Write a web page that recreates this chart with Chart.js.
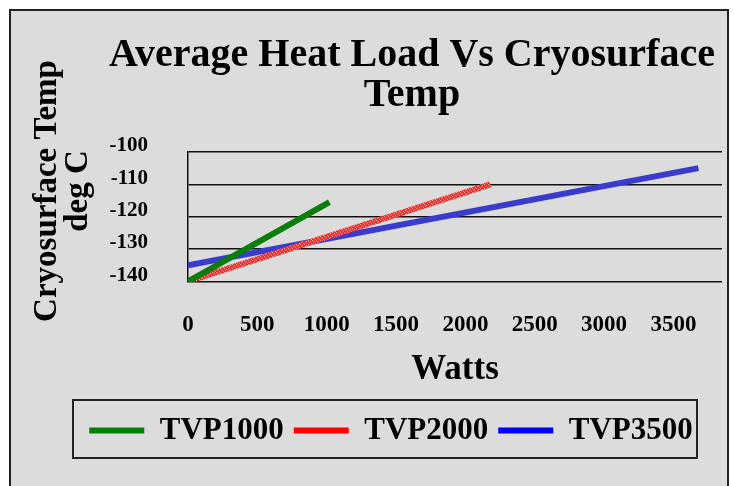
<!DOCTYPE html>
<html>
<head>
<meta charset="utf-8">
<title>Average Heat Load Vs Cryosurface Temp</title>
<script src="https://cdn.jsdelivr.net/npm/chart.js@4/dist/chart.umd.min.js"></script>
<style>
    html, body { margin: 0; padding: 0; background: #fff; }
    body { width: 734px; height: 486px; position: relative; overflow: hidden; }
    #frame {
        position: absolute; left: 9px; top: 9px;
        width: 716px; height: 500px;
        border: 2px solid #222; background: #dcdcdc;
    }
    #chart { position: absolute; left: 0; top: 0; }
</style>
</head>
<body>
<div id="frame"></div>
<canvas id="chart" width="734" height="486"></canvas>
<script>
/* ---- data ---- */
const seriesNames = ['TVP1000', 'TVP2000', 'TVP3500'];
const tvp1000Watts = [0, 1020];
const tvp1000Temp  = [-140, -115.5];
const tvp2000Watts = [0, 2180];
const tvp2000Temp  = [-140, -110];
const tvp3500Watts = [0, 3680];
const tvp3500Temp  = [-135, -105];

const xTicks = [0, 500, 1000, 1500, 2000, 2500, 3000, 3500];
const yTicks = [-140, -130, -120, -110, -100];

const titleLines  = ['Average Heat Load Vs Cryosurface', 'Temp'];
const yTitleLines = ['Cryosurface Temp', 'deg C'];
const xTitle = 'Watts';

const legendColors = ['#008000', '#ff0000', '#0000ff'];

const SERIF = '"Liberation Serif", "Times New Roman", serif';
Chart.defaults.font.family = SERIF;
Chart.defaults.color = '#000';

// the big title sits right of the legend's centre in the original
const TITLE_SHIFT = 21;

// dithered red like the original line
function redHatch() {
    const c = document.createElement('canvas');
    c.width = 4; c.height = 4;
    const g = c.getContext('2d');
    g.fillStyle = '#f22a2a';
    g.fillRect(0, 0, 4, 4);
    g.fillStyle = '#f7a8a8';
    g.fillRect(0, 0, 1, 1);
    g.fillRect(2, 1, 1, 1);
    g.fillRect(1, 2, 1, 1);
    g.fillRect(3, 3, 1, 1);
    return g.createPattern(c, 'repeat');
}

const toPoints = (xs, ys) => xs.map((x, i) => ({ x: x, y: ys[i] }));

// y axis title sits higher than the axis middle, so draw it by hand
const yTitlePlugin = {
    id: 'yTitle',
    afterDraw(chart) {
        const ctx = chart.ctx;
        ctx.save();
        ctx.translate(63, 191);
        ctx.rotate(-Math.PI / 2);
        ctx.font = 'bold 33px ' + SERIF;
        ctx.fillStyle = '#000';
        ctx.textAlign = 'center';
        ctx.textBaseline = 'middle';
        yTitleLines.forEach((t, i) => ctx.fillText(t, 0, (i - 0.5) * 31));
        ctx.restore();
    }
};

// nudge the title, and put a frame round the legend
const framePlugin = {
    id: 'frames',
    afterLayout(chart) {
        const tb = chart.titleBlock;
        if (tb) {
            tb.left += TITLE_SHIFT;
            tb.right += TITLE_SHIFT;
        }
    },
    afterDraw(chart) {
        const lg = chart.legend;
        if (!lg || !lg.lineWidths) return;
        const pad = lg.options.labels.padding;
        const fontSize = lg.options.labels.font.size;
        const rowW = lg.lineWidths[0];
        const x0 = (lg.left + pad + lg.right - rowW) / 2;
        const x1 = x0 + rowW - pad;
        const cy = lg.top + pad + fontSize / 2;
        const ctx = chart.ctx;
        ctx.save();
        ctx.strokeStyle = '#222';
        ctx.lineWidth = 2;
        ctx.strokeRect(Math.round(x0 - 16), Math.round(cy - 30.5), Math.round(x1 - x0 + 20), 58);
        ctx.restore();
    }
};

new Chart(document.getElementById('chart'), {
    type: 'scatter',
    data: {
        datasets: [
            {
                label: seriesNames[0],
                data: toPoints(tvp1000Watts, tvp1000Temp),
                borderColor: '#0a7d0a',
                backgroundColor: '#0a7d0a'
            },
            {
                label: seriesNames[1],
                data: toPoints(tvp2000Watts, tvp2000Temp),
                borderColor: redHatch(),
                backgroundColor: '#f22a2a'
            },
            {
                label: seriesNames[2],
                data: toPoints(tvp3500Watts, tvp3500Temp),
                borderColor: '#3a3acc',
                backgroundColor: '#3a3acc'
            }
        ].map(ds => Object.assign(ds, {
            showLine: true,
            borderWidth: 6,
            pointRadius: 0,
            pointHoverRadius: 0,
            fill: false
        }))
    },
    options: {
        responsive: false,
        animation: false,
        layout: { padding: { left: 60, right: 12, top: 10, bottom: 30 } },
        scales: {
            x: {
                type: 'linear',
                min: 0,
                max: 3850,
                grid: { display: false, drawTicks: false },
                border: { display: false },
                afterBuildTicks: s => { s.ticks = xTicks.map(v => ({ value: v })); },
                ticks: {
                    autoSkip: false,
                    maxRotation: 0,
                    padding: 30,
                    color: '#000',
                    font: { size: 23, weight: 'bold' },
                    callback: v => String(v)
                },
                title: {
                    display: true,
                    text: xTitle,
                    color: '#000',
                    font: { size: 35, weight: 'bold' },
                    padding: { top: -20, bottom: 14 }
                }
            },
            y: {
                min: -140,
                max: -100,
                afterBuildTicks: s => { s.ticks = yTicks.map(v => ({ value: v })); },
                afterFit: s => { s.width = 128; },
                grid: { color: '#111', lineWidth: 1.5, drawTicks: false },
                border: { display: true, color: '#111', width: 1.5 },
                ticks: {
                    autoSkip: false,
                    padding: 40,
                    labelOffset: -6,
                    color: '#000',
                    font: { size: 21, weight: 'bold' },
                    callback: v => String(v)
                }
            }
        },
        plugins: {
            title: {
                display: true,
                text: titleLines,
                color: '#000',
                font: { size: 40, weight: 'bold', lineHeight: 1 },
                padding: { top: 26, bottom: 36 }
            },
            legend: {
                position: 'bottom',
                labels: {
                    boxWidth: 55,
                    boxHeight: 6,
                    padding: 10,
                    color: '#000',
                    font: { size: 31, weight: 'bold' },
                    generateLabels: chart => chart.data.datasets.map((ds, i) => ({
                        text: ds.label,
                        fillStyle: legendColors[i],
                        strokeStyle: legendColors[i],
                        lineWidth: 0,
                        hidden: false,
                        datasetIndex: i,
                        fontColor: '#000'
                    }))
                }
            },
            tooltip: { enabled: false }
        }
    },
    plugins: [yTitlePlugin, framePlugin]
});
</script>
</body>
</html>
